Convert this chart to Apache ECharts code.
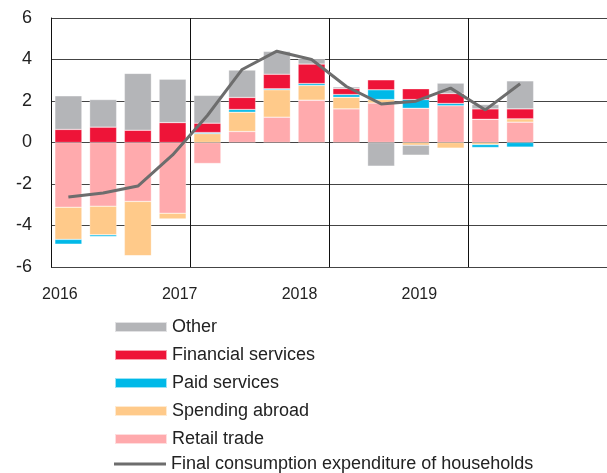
<!DOCTYPE html>
<html>
<head>
<meta charset="utf-8">
<script src="https://cdn.jsdelivr.net/npm/echarts@6/dist/echarts.min.js"></script>
<style>
  html, body { margin: 0; padding: 0; background: #fff; }
  #chart { width: 607px; height: 473px; }
</style>
</head>
<body>
<div id="chart"></div>
<script>
var quarters = ['2016Q1','2016Q2','2016Q3','2016Q4','2017Q1','2017Q2','2017Q3','2017Q4',
                '2018Q1','2018Q2','2018Q3','2018Q4','2019Q1','2019Q2','2019Q3','2019Q4'];
var yearLabels = ['2016', '2017', '2018', '2019', ''];

var retailTrade = [-3.12, -3.07, -2.84, -3.41, -1.01, 0.53, 1.22, 2.04, 1.62, 1.90, 1.65, 1.77, 1.12, 0.98];
var spendingAbroad = [-1.55, -1.38, -2.62, -0.28, 0.43, 0.93, 1.32, 0.71, 0.56, 0.17, -0.13, -0.27, -0.10, 0.16];
var paidServices = [-0.23, -0.08, 0, 0, 0.05, 0.13, 0.05, 0.09, 0.13, 0.47, 0.42, 0.11, -0.14, -0.22];
var financialServices = [0.63, 0.74, 0.59, 0.96, 0.45, 0.58, 0.70, 0.94, 0.29, 0.48, 0.52, 0.48, 0.50, 0.48];
var other = [1.62, 1.33, 2.74, 2.09, 1.34, 1.32, 1.10, 0.24, 0.08, -1.14, -0.48, 0.50, 0.21, 1.35];
var finalConsumption = [-2.63, -2.43, -2.10, -0.60, 1.30, 3.52, 4.40, 4.00, 2.70, 1.86, 1.99, 2.62, 1.57, 2.83];

var font = '"Liberation Sans", Arial, sans-serif';
var lineName = 'Final consumption expenditure of households';

function bar(name, data, color) {
  return {
    name: name,
    type: 'bar',
    stack: 'total',
    data: data,
    barWidth: 27,
    itemStyle: { color: color, borderColor: 'rgba(255,255,255,0.6)', borderWidth: 0.5 }
  };
}

var chart = echarts.init(document.getElementById('chart'));
var option = {
  animation: false,
  textStyle: { fontFamily: font },
  grid: [
    { left: 51, top: 18, width: 560, height: 249 },
    { left: -1, top: 18, width: 600, height: 249 }
  ],
  legend: [
    {
      orient: 'vertical',
      left: 114,
      top: 318,
      padding: 0,
      itemWidth: 52,
      itemHeight: 10,
      itemGap: 10,
      icon: 'rect',
      textStyle: { fontSize: 18, color: '#222', fontFamily: font },
      data: ['Other', 'Financial services', 'Paid services', 'Spending abroad', 'Retail trade']
    },
    {
      orient: 'vertical',
      left: 114,
      top: 455,
      padding: 0,
      itemWidth: 52,
      itemHeight: 3,
      icon: 'rect',
      textStyle: { fontSize: 18, color: '#222', fontFamily: font },
      data: [lineName]
    }
  ],
  xAxis: [
    {
      type: 'category',
      gridIndex: 0,
      data: quarters,
      axisLine: { show: false },
      axisTick: { show: false },
      axisLabel: { show: false },
      splitLine: { show: true, interval: 3, lineStyle: { color: '#111', width: 1 } }
    },
    {
      type: 'category',
      gridIndex: 1,
      data: yearLabels,
      axisLine: { show: false },
      axisTick: { show: false },
      axisLabel: { fontSize: 16, color: '#222', margin: 20, fontFamily: font }
    }
  ],
  yAxis: [
    {
      type: 'value',
      gridIndex: 0,
      min: -6,
      max: 6,
      interval: 2,
      axisLine: { show: true, lineStyle: { color: '#111' } },
      axisTick: { show: false },
      axisLabel: { fontSize: 18, color: '#222', margin: 19, fontFamily: font },
      splitLine: { lineStyle: { color: '#444', width: 1 } }
    },
    { type: 'value', gridIndex: 1, show: false, min: -6, max: 6 }
  ],
  series: [
    bar('Retail trade', retailTrade, '#ffaaad'),
    bar('Spending abroad', spendingAbroad, '#ffca8a'),
    bar('Paid services', paidServices, '#00b9e8'),
    bar('Financial services', financialServices, '#ee1438'),
    bar('Other', other, '#b4b5b8'),
    {
      name: lineName,
      type: 'line',
      data: finalConsumption,
      symbol: 'none',
      lineStyle: { color: '#6d6d6d', width: 3 },
      itemStyle: { color: '#6d6d6d' },
      z: 5
    }
  ]
};
chart.setOption(option);
</script>
</body>
</html>
